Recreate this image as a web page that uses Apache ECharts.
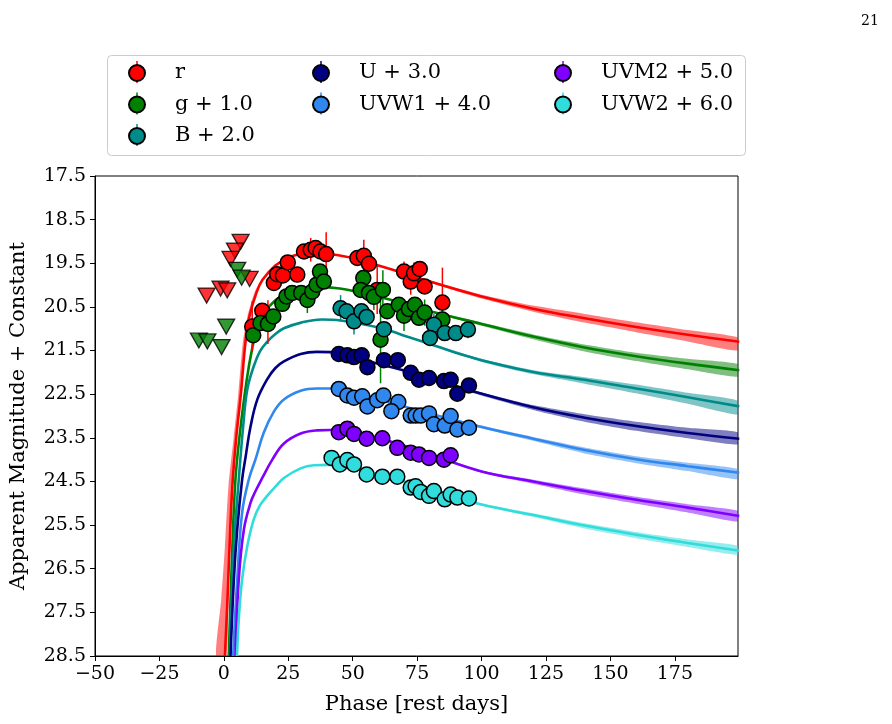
<!DOCTYPE html>
<html>
<head>
<meta charset="utf-8">
<script src="https://cdn.jsdelivr.net/npm/echarts@6/dist/echarts.min.js"></script>
<style>
  html, body { margin: 0; padding: 0; background: #fff; }
  #main { width: 892px; height: 724px; }
</style>
</head>
<body>
<div id="main"></div>
<script>
// detections: [phase, mag, error]
const rPts = [[11.0,20.95,0.58],[14.9,20.59,0],[17.1,20.85,0.5],[19.4,19.95,0],[20.7,19.75,0],[22.9,19.78,0],
  [24.8,19.48,0],[28.5,19.76,0],[31.1,19.23,0],[33.7,19.19,0.27],[35.6,19.15,0],[37.5,19.23,0],[39.7,19.29,0.5],
  [51.8,19.38,0],[54.3,19.33,0.37],[56.3,19.51,0],[59.5,20.11,0.55],[69.9,19.69,0.23],[72.5,19.92,0.3],
  [73.8,19.73,0.25],[76.0,19.63,0],[77.9,20.03,0],[84.8,20.40,0.8]];
const gPts = [[11.4,21.15,0],[14.2,20.87,0],[17.1,20.89,0],[19.2,20.72,0],[22.7,20.43,0],[24.3,20.26,0],
  [26.5,20.18,0],[30.0,20.18,0],[32.4,20.34,0.3],[34.3,20.15,0],[36.0,19.99,0],[37.3,19.69,0],[38.8,19.92,0],
  [54.1,19.84,0],[53.1,20.11,0],[56.3,20.18,0],[58.2,20.27,0.3],[61.7,20.11,0.45],[63.4,20.60,0],
  [67.9,20.45,0],[69.9,20.70,0.35],[71.8,20.55,0],[74.1,20.45,0],[75.7,20.75,0],[77.9,20.63,0.3],
  [84.8,20.79,0.25],[60.8,21.25,1.0]];
const bPts = [[45.3,20.53,0.3],[47.6,20.60,0],[50.5,20.83,0.3],[53.4,20.60,0],[55.4,20.73,0],[62.1,21.01,0],
  [81.5,20.91,0.25],[80.0,21.21,0],[85.7,21.10,0],[90.0,21.10,0],[94.7,21.02,0.2]];
const uPts = [[44.6,21.58,0],[47.9,21.61,0],[50.5,21.65,0],[53.5,21.61,0],[55.7,21.88,0],[62.1,21.72,0],
  [67.5,21.72,0],[72.5,22.01,0],[75.7,22.17,0],[79.6,22.13,0],[85.4,22.20,0],[88.0,22.17,0],
  [90.6,22.49,0],[95.1,22.30,0]];
const w1Pts = [[44.6,22.38,0],[47.9,22.53,0],[50.5,22.58,0],[53.7,22.55,0],[55.7,22.78,0],[59.5,22.64,0],
  [61.9,22.53,0],[67.7,22.68,0],[65.0,22.89,0],[72.5,22.99,0],[74.4,22.99,0],[76.4,22.99,0],[79.6,22.94,0],
  [81.5,23.19,0],[85.7,23.22,0],[88.0,23.00,0],[90.6,23.31,0],[95.1,23.27,0]];
const m2Pts = [[44.6,23.37,0],[47.9,23.29,0],[50.5,23.41,0],[55.4,23.52,0],[61.5,23.51,0],[67.3,23.73,0],
  [72.5,23.84,0],[75.7,23.88,0],[79.6,23.96,0],[85.4,24.00,0],[88.0,23.90,0]];
const w2Pts = [[41.8,23.96,0],[45.0,24.11,0],[47.9,24.01,0],[50.5,24.11,0],[55.4,24.34,0],[61.5,24.39,0],
  [67.3,24.39,0],[72.5,24.64,0],[74.4,24.61,0],[76.4,24.74,0],[79.6,24.83,0],[81.5,24.72,0],
  [85.7,24.91,0],[88.0,24.80,0],[90.6,24.87,0],[95.1,24.89,0]];

// upper limits [phase, mag]
const rLim = [[6.5,19.01],[4.3,19.21],[2.6,19.40],[10.0,19.86],[-1.3,20.08],[1.3,20.12],[-6.7,20.24]];
const gLim = [[5.2,19.65],[6.9,19.83],[0.9,20.95],[-9.7,21.27],[-6.4,21.29],[-0.9,21.42]];

// model curves [phase, mag]
const rModel = [[0.4,28.5],[1.4,27.2],[2.2,26.0],[3.3,24.6],[4.8,23.5],[6.6,22.5],[8.4,21.3],[10,20.7],
  [12.5,20.2],[15,19.88],[20,19.55],[25,19.37],[30,19.28],[35,19.25],[40,19.28],[50,19.38],[60,19.55],
  [70,19.73],[80,19.92],[100,20.26],[120,20.54],[140,20.76],[160,20.96],[180,21.14],[200,21.3]];
const gModel = [[1.9,28.5],[3.3,26.0],[4.5,24.45],[6.2,23.4],[8.8,22.2],[11,21.45],[13,21.0],[16,20.62],
  [20,20.35],[25,20.17],[30,20.08],[37,20.04],[45,20.08],[55,20.2],[70,20.42],[80,20.6],[100,20.89],
  [120,21.18],[140,21.43],[160,21.63],[180,21.8],[200,21.95]];
const bModel = [[2.3,28.5],[3.9,26.0],[5.8,24.45],[7.4,23.3],[9.1,22.39],[11.6,21.86],[14,21.52],[16.8,21.3],
  [20,21.12],[23.3,20.99],[30,20.86],[38,20.79],[45.3,20.81],[62,21.0],[70,21.16],[80,21.35],[90,21.55],
  [100,21.72],[120,21.99],[140,22.17],[160,22.37],[180,22.57],[200,22.78]];
const uModel = [[2.6,28.5],[3.9,26.74],[5.2,25.59],[7.1,24.45],[8.4,23.95],[10.4,23.23],[13,22.62],
  [16.8,22.16],[20,21.9],[23.3,21.75],[29.8,21.58],[36,21.53],[42.7,21.54],[55.7,21.74],[70,21.96],
  [80,22.13],[95.8,22.42],[120,22.8],[140,23.04],[160,23.23],[180,23.39],[200,23.52]];
const w1Model = [[3.6,28.5],[5.2,26.74],[7.1,25.21],[9.7,24.45],[12.3,23.99],[15.5,23.38],[19.4,22.9],
  [23.3,22.62],[29.8,22.42],[36,22.37],[41.4,22.37],[55.7,22.55],[70,22.78],[80,22.95],[100,23.25],
  [120,23.52],[140,23.78],[160,23.99],[180,24.15],[200,24.3]];
const m2Model = [[4.5,28.5],[5.8,26.74],[7.8,25.59],[10.4,24.98],[12.3,24.72],[14.9,24.42],[18.8,24.0],
  [23.3,23.63],[29.8,23.4],[36,23.33],[41.4,23.32],[55.7,23.45],[70,23.68],[80,23.88],[100,24.27],
  [120,24.5],[140,24.72],[160,24.92],[180,25.1],[200,25.29]];
const w2Model = [[5.1,28.5],[5.8,27.65],[7.1,26.74],[9.1,25.98],[11.6,25.37],[14,25.05],[16.8,24.83],
  [20,24.62],[23.3,24.42],[29.8,24.2],[35,24.13],[40.1,24.12],[55.7,24.27],[70,24.5],[80,24.68],
  [100,25.03],[120,25.27],[140,25.51],[160,25.72],[180,25.91],[200,26.09]];

// model spread at late times
const bandX = [80, 100, 120, 140, 160, 180, 200];
const rLo  = [19.90,20.22,20.47,20.66,20.85,21.03,21.21], rHi  = [19.94,20.31,20.61,20.86,21.08,21.29,21.50];
const gLo  = [20.58,20.86,21.13,21.36,21.55,21.69,21.82], gHi  = [20.62,20.93,21.24,21.52,21.74,21.93,22.10];
const bLo  = [21.33,21.69,21.95,22.11,22.28,22.47,22.66], bHi  = [21.37,21.76,22.04,22.26,22.48,22.72,22.97];
const uLo  = [22.11,22.46,22.75,22.96,23.13,23.27,23.38], uHi  = [22.15,22.53,22.86,23.13,23.34,23.51,23.65];
const w1Lo = [22.93,23.22,23.48,23.72,23.92,24.07,24.22], w1Hi = [22.97,23.28,23.57,23.86,24.08,24.26,24.45];
const m2Lo = [23.86,24.25,24.46,24.66,24.85,25.02,25.18], m2Hi = [23.90,24.30,24.55,24.80,25.01,25.21,25.42];
const w2Lo = [24.66,25.00,25.23,25.46,25.66,25.83,25.98], w2Hi = [24.70,25.05,25.31,25.58,25.80,26.00,26.18];
// red spread on the rise (early edge / late edge)
const rRiseEarly = [[-3.0,28.5],[-1.0,27.2],[0.4,26.0],[1.8,24.6],[3.8,23.5],[5.6,22.5],[7.4,21.3],[9.2,20.7],[12,20.15],[15,19.85],[20,19.52]];
const rRiseLate  = [[0.9,28.5],[1.8,27.2],[2.5,26.0],[3.5,24.6],[5.0,23.5],[6.8,22.5],[8.6,21.3],[10.2,20.7],[12.7,20.2],[15.2,19.88],[20,19.55]];

const xTicks = [-50, -25, 0, 25, 50, 75, 100, 125, 150, 175];
const yTicks = [17.5, 18.5, 19.5, 20.5, 21.5, 22.5, 23.5, 24.5, 25.5, 26.5, 27.5, 28.5];

const filters = [
  { name: 'r', color: '#ff0000', pts: rPts, model: rModel, lo: rLo, hi: rHi, lim: rLim },
  { name: 'g + 1.0', color: '#008000', pts: gPts, model: gModel, lo: gLo, hi: gHi, lim: gLim },
  { name: 'B + 2.0', color: '#008b8b', pts: bPts, model: bModel, lo: bLo, hi: bHi },
  { name: 'U + 3.0', color: '#000080', pts: uPts, model: uModel, lo: uLo, hi: uHi },
  { name: 'UVW1 + 4.0', color: '#3087ee', pts: w1Pts, model: w1Model, lo: w1Lo, hi: w1Hi },
  { name: 'UVM2 + 5.0', color: '#8000ff', pts: m2Pts, model: m2Model, lo: m2Lo, hi: m2Hi },
  { name: 'UVW2 + 6.0', color: '#30dcdc', pts: w2Pts, model: w2Model, lo: w2Lo, hi: w2Hi }
];

const FONT = 'DejaVu Serif';
const chart = echarts.init(document.getElementById('main'), null, { renderer: 'canvas' });

function polySeries(poly, color, z) {
  return {
    type: 'custom', silent: true, clip: true, z: z,
    data: poly,
    renderItem: function (params, api) {
      if (params.dataIndex !== 0) return;
      const pts = poly.map(function (p) { return api.coord(p); });
      return { type: 'polygon', shape: { points: pts, smooth: 0.2 }, style: { fill: color, opacity: 0.5 } };
    }
  };
}

const series = [];
filters.forEach(function (f) {
  const poly = [];
  bandX.forEach(function (x, i) { poly.push([x, f.lo[i]]); });
  for (let i = bandX.length - 1; i >= 0; i--) poly.push([bandX[i], f.hi[i]]);
  series.push(polySeries(poly, f.color, 1));
});
series.push(polySeries(rRiseEarly.concat(rRiseLate.slice().reverse()), '#ff0000', 1));

filters.forEach(function (f) {
  series.push({
    type: 'line', name: f.name + ' model', data: f.model, smooth: 0.4,
    showSymbol: false, symbol: 'none',
    lineStyle: { color: f.color, width: 2.6 }, z: 2, silent: true
  });
});

filters.forEach(function (f) {
  const bars = f.pts.filter(function (p) { return p[2] > 0; })
    .map(function (p) { return [p[0], p[1] - p[2], p[1] + p[2]]; });
  series.push({
    type: 'custom', silent: true, z: 3, data: bars,
    renderItem: function (params, api) {
      const a = api.coord([api.value(0), api.value(1)]);
      const b = api.coord([api.value(0), api.value(2)]);
      return { type: 'line', shape: { x1: a[0], y1: a[1], x2: b[0], y2: b[1] }, style: { stroke: f.color, lineWidth: 1.5 } };
    }
  });
  if (f.lim) {
    series.push({
      type: 'scatter', name: f.name + ' limit', data: f.lim, symbol: 'triangle', symbolRotate: 180, symbolSize: [17, 15],
      itemStyle: { color: f.color, borderColor: '#000', borderWidth: 1.3 }, z: 4, silent: true
    });
  }
  series.push({
    type: 'scatter', name: f.name, data: f.pts.map(function (p) { return [p[0], p[1]]; }),
    symbol: 'circle', symbolSize: 15,
    itemStyle: { color: f.color, borderColor: '#000', borderWidth: 1.5, opacity: 1 }, z: 4, silent: true
  });
});

const legendCommon = {
  orient: 'vertical', top: 62, itemWidth: 66, itemHeight: 16, itemGap: 9.5, padding: 0,
  icon: 'circle', selectedMode: false,
  textStyle: { fontFamily: FONT, fontSize: 21, color: '#000', lineHeight: 22 }
};

// small error-bar ticks behind the legend markers
const legendCols = [137, 321, 563];
const legendRows = [72, 103.5, 135];
const legendTicks = filters.map(function (f, i) {
  const col = i < 3 ? 0 : (i < 5 ? 1 : 2);
  const row = i < 3 ? i : (i < 5 ? i - 3 : i - 5);
  const x = legendCols[col], y = legendRows[row];
  return { type: 'line', z: 0, shape: { x1: x, y1: y - 11, x2: x, y2: y + 11 }, style: { stroke: f.color, lineWidth: 1.5 } };
});

chart.setOption({
  animation: false,
  backgroundColor: '#fff',
  grid: { left: 95, right: 154, top: 176, bottom: 68, show: true, borderColor: '#000', borderWidth: 1, backgroundColor: 'transparent' },
  graphic: [
    { type: 'rect', left: 107, top: 55, shape: { width: 638, height: 100, r: 4 }, style: { fill: '#fff', stroke: '#cccccc', lineWidth: 1 }, z: -1 },
    { type: 'text', left: 861, top: 14, style: { text: '21', font: '14px "DejaVu Serif"', fill: '#000' } }
  ].concat(legendTicks),
  legend: [
    Object.assign({ left: 128, data: ['r', 'g + 1.0', 'B + 2.0'] }, legendCommon),
    Object.assign({ left: 312, data: ['U + 3.0', 'UVW1 + 4.0'] }, legendCommon),
    Object.assign({ left: 554, data: ['UVM2 + 5.0', 'UVW2 + 6.0'] }, legendCommon)
  ],
  xAxis: {
    type: 'value', min: -50, max: 199.5,
    name: 'Phase [rest days]', nameLocation: 'middle', nameGap: 38,
    nameTextStyle: { fontFamily: FONT, fontSize: 21, color: '#000' },
    axisLine: { show: true, onZero: false, lineStyle: { color: '#000', width: 1 } },
    axisTick: { show: true, inside: false, length: 5, customValues: xTicks, lineStyle: { color: '#000' } },
    axisLabel: {
      customValues: xTicks, fontFamily: FONT, fontSize: 19, color: '#000', margin: 9,
      formatter: function (v) { return v < 0 ? '\u2212' + Math.abs(v) : String(v); }
    },
    splitLine: { show: false }
  },
  yAxis: {
    type: 'value', inverse: true, min: 17.5, max: 28.5,
    name: 'Apparent Magnitude + Constant', nameLocation: 'middle', nameGap: 66,
    nameTextStyle: { fontFamily: FONT, fontSize: 21, color: '#000' },
    axisLine: { show: true, onZero: false, lineStyle: { color: '#000', width: 1 } },
    axisTick: { show: true, inside: false, length: 5, customValues: yTicks, lineStyle: { color: '#000' } },
    axisLabel: {
      customValues: yTicks, fontFamily: FONT, fontSize: 19, color: '#000', margin: 9,
      formatter: function (v) { return v.toFixed(1); }
    },
    splitLine: { show: false }
  },
  series: series
});
</script>
</body>
</html>
